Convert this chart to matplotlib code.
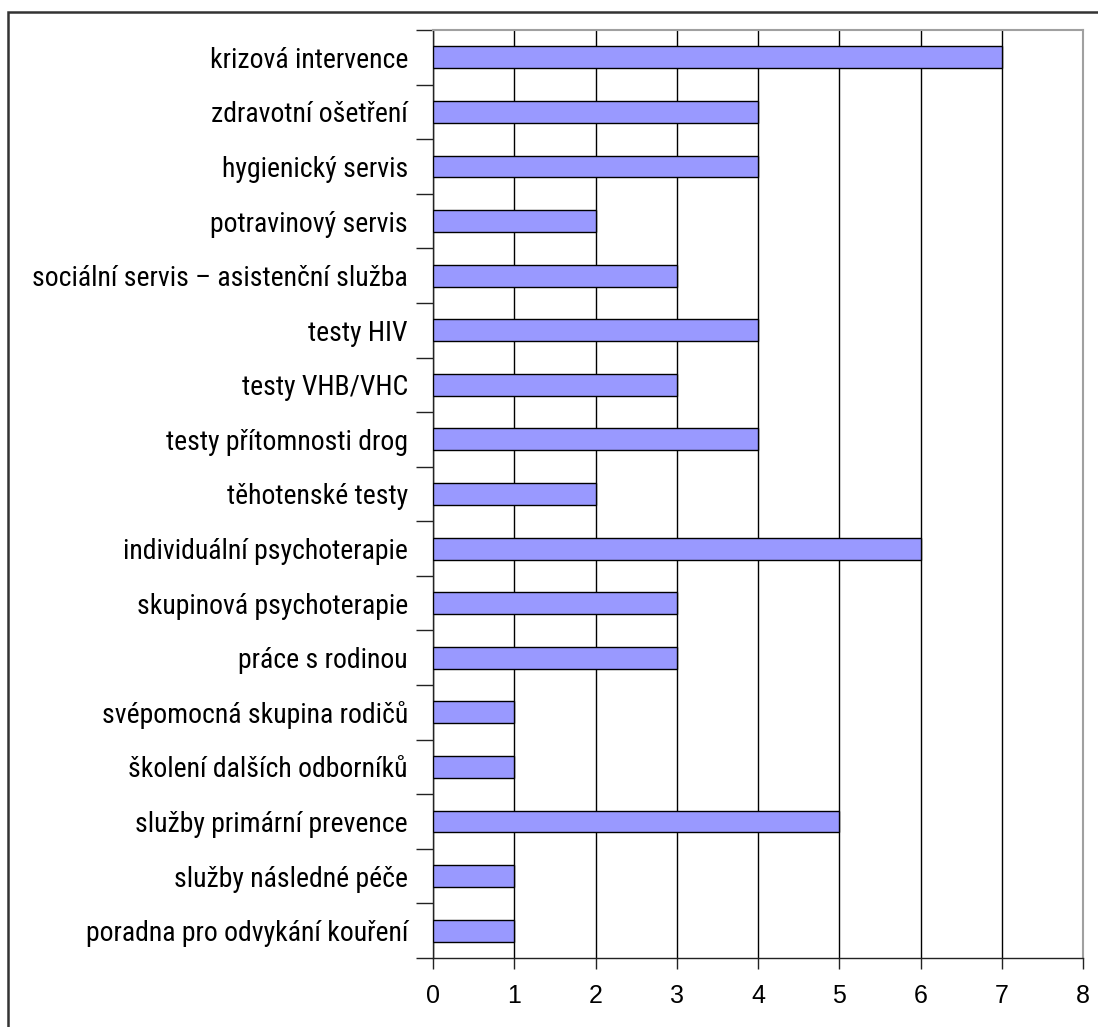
import matplotlib
matplotlib.use("Agg")
import matplotlib.pyplot as plt
from matplotlib.patches import Rectangle
import numpy as np

categories = [
    "krizová intervence",
    "zdravotní ošetření",
    "hygienický servis",
    "potravinový servis",
    "sociální servis – asistenční služba",
    "testy HIV",
    "testy VHB/VHC",
    "testy přítomnosti drog",
    "těhotenské testy",
    "individuální psychoterapie",
    "skupinová psychoterapie",
    "práce s rodinou",
    "svépomocná skupina rodičů",
    "školení dalších odborníků",
    "služby primární prevence",
    "služby následné péče",
    "poradna pro odvykání kouření",
]
values = [7, 4, 4, 2, 3, 4, 3, 4, 2, 6, 3, 3, 1, 1, 5, 1, 1]
x_ticks = [0, 1, 2, 3, 4, 5, 6, 7, 8]

plt.rcParams['font.family'] = ['Liberation Sans', 'DejaVu Sans']

W, H = 1098, 1027
fig = plt.figure(figsize=(W / 100, H / 100), dpi=100)

# outer chart frame (cropped on the right and bottom)
fig.patches.append(Rectangle((8 / W, -0.05), 1.2, 1 - 12 / H + 0.05,
                             transform=fig.transFigure, fill=False,
                             edgecolor='#333333', linewidth=1.8))

ax = fig.add_axes([433 / W, 1 - 958 / H, (1083 - 433) / W, (958 - 30) / H])

n = len(categories)
ypos = np.arange(n)
ax.barh(ypos, values, height=0.4, color='#9999FF', edgecolor='black',
        linewidth=1.0, zorder=3)

ax.set_xlim(0, 8)
ax.set_ylim(n - 0.5, -0.5)

ax.set_xticks(x_ticks)
ax.set_xticklabels([str(v) for v in x_ticks], fontsize=18)
ax.xaxis.grid(True, color='black', linewidth=1.0, zorder=0)
ax.tick_params(axis='x', direction='out', length=8, width=1, pad=11, color='#222222')

ax.set_yticks(np.arange(n + 1) - 0.5)
ax.set_yticklabels([])
ax.set_yticks(ypos, minor=True)
ax.set_yticklabels(categories, minor=True, fontsize=20,
                   family=['Roboto Condensed', 'Roboto', 'DejaVu Sans'])
ax.tick_params(axis='y', which='major', direction='out', length=12, width=1, color='#222222')
ax.tick_params(axis='y', which='minor', length=0, pad=18)

for side in ['top', 'right']:
    ax.spines[side].set_color('#A0A0A0')
    ax.spines[side].set_linewidth(1.5)
for side in ['left', 'bottom']:
    ax.spines[side].set_color('#222222')
    ax.spines[side].set_linewidth(1.0)

fig.savefig("out.png", dpi=100)
